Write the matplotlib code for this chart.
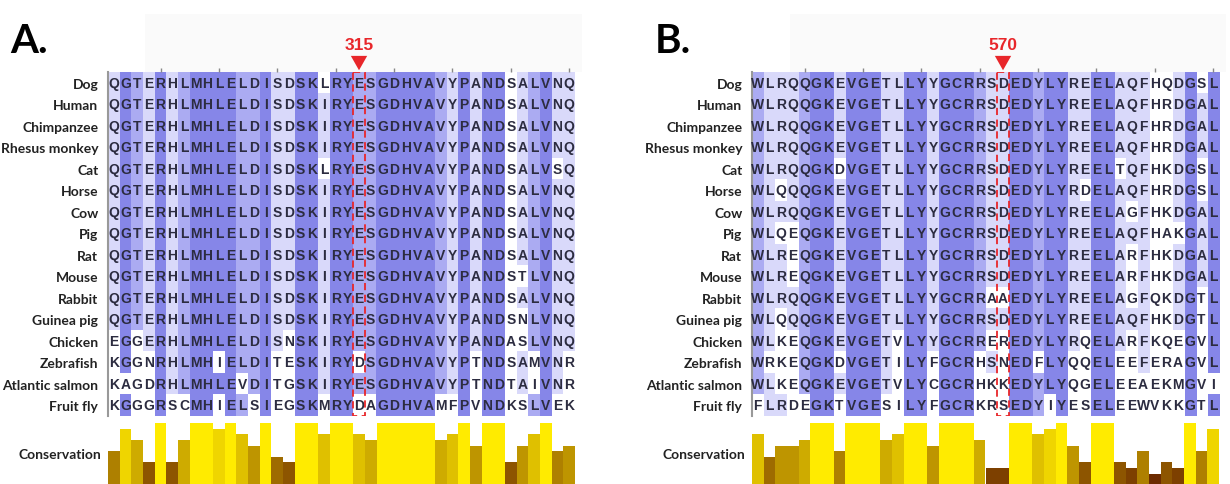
import matplotlib
matplotlib.use("Agg")
import matplotlib.pyplot as plt
from matplotlib.patches import Rectangle, Polygon
from matplotlib.colors import ListedColormap
from collections import Counter
import numpy as np

# ---------------- data ----------------
species = ["Dog", "Human", "Chimpanzee", "Rhesus monkey", "Cat", "Horse", "Cow",
           "Pig", "Rat", "Mouse", "Rabbit", "Guinea pig", "Chicken", "Zebrafish",
           "Atlantic salmon", "Fruit fly"]

seqs_a = [
    "QGTERHLMHLELDISDSKLRYESGDHVAVYPANDSALVNQ",
    "QGTERHLMHLELDISDSKIRYESGDHVAVYPANDSALVNQ",
    "QGTERHLMHLELDISDSKIRYESGDHVAVYPANDSALVNQ",
    "QGTERHLMHLELDISDSKIRYESGDHVAVYPANDSALVNQ",
    "QGTERHLMHLELDISDSKLRYESGDHVAVYPANDSALVSQ",
    "QGTERHLMHLELDISDSKIRYESGDHVAVYPANDSALVNQ",
    "QGTERHLMHLELDISDSKIRYESGDHVAVYPANDSALVNQ",
    "QGTERHLMHLELDISDSKIRYESGDHVAVYPANDSALVNQ",
    "QGTERHLMHLELDISDSKIRYESGDHVAVYPANDSALVNQ",
    "QGTERHLMHLELDISDSKIRYESGDHVAVYPANDSTLVNQ",
    "QGTERHLMHLELDISDSKIRYESGDHVAVYPANDSALVNQ",
    "QGTERHLMHLELDISDSKIRYESGDHVAVYPANDSNLVNQ",
    "EGGERHLMHLELDISNSKIRYESGDHVAVYPANDASLVNQ",
    "KGGNRHLMHIELDITESKIRYDSGDHVAVYPTNDSAMVNR",
    "KAGDRHLMHLEVDITGSKIRYESGDHVAVYPTNDTAIVNR",
    "KGGGRSCMHIELSIEGSKMRYDAGDHVAMFPVNDKSLVEK",
]

seqs_b = [
    "WLRQQGKEVGETLLYYGCRRSDEDYLYREELAQFHQDGSL",
    "WLRQQGKEVGETLLYYGCRRSDEDYLYREELAQFHRDGAL",
    "WLRQQGKEVGETLLYYGCRRSDEDYLYREELAQFHRDGAL",
    "WLRQQGKEVGETLLYYGCRRSDEDYLYREELAQFHRDGAL",
    "WLRQQGKDVGETLLYYGCRRSDEDYLYREELTQFHKDGSL",
    "WLQQQGKEVGETLLYYGCRRSDEDYLYRDELAQFHRDGSL",
    "WLRQQGKEVGETLLYYGCRRSDEDYLYREELAGFHKDGAL",
    "WLQEQGKEVGETLLYYGCRRSDEDYLYREELAQFHAKGAL",
    "WLREQGKEVGETLLYYGCRRSDEDYLYREELARFHKDGAL",
    "WLREQGKEVGETLLYYGCRRSDEDYLYREELARFHKDGAL",
    "WLRQQGKEVGETLLYYGCRRAAEDYLYREELAGFQKDGTL",
    "WLQQQGKEVGETLLYYGCRRSDEDYLYREELAQFHKDGTL",
    "WLKEQGKEVGETVLYYGCRREREDYLYRQELARFKQEGVL",
    "WRKEQGKDVGETILYFGCRHSNEDFLYQQELEEFERAGVL",
    "WLKEQGKEVGETVLYCGCRHKKEDYLYQGELEEAEKMGVI",
    "FLRDEGKTVGESILYFGCRKRSEDYIYESELEEWVKKGTL",
]

# column shading level (0 white .. 3 dark)
levels_a = [1, 3, 2, 1, 3, 1, 2, 3, 3, 3, 3, 2, 2, 3, 1, 1, 3, 3, 1, 3,
            3, 2, 2, 3, 3, 3, 3, 3, 2, 1, 3, 1, 3, 3, 0, 1, 2, 3, 1, 1]
levels_b = [2, 1, 1, 1, 2, 3, 3, 1, 3, 3, 3, 1, 1, 3, 3, 1, 3, 3, 3, 2,
            1, 1, 3, 3, 2, 3, 3, 1, 1, 3, 3, 1, 1, 1, 0, 0, 1, 3, 1, 3]

# conservation scores (0..11)
cons_a = [6, 10, 8, 4, 11, 4, 8, 11, 11, 10, 11, 9, 7, 11, 5, 4, 11, 11, 9, 11,
          11, 9, 8, 11, 11, 11, 11, 11, 8, 9, 11, 7, 11, 11, 4, 7, 9, 11, 6, 7]
cons_b = [9, 5, 7, 7, 8, 11, 11, 6, 11, 11, 11, 8, 9, 11, 11, 7, 11, 11, 11, 8,
          3, 3, 11, 11, 9, 10, 11, 7, 4, 11, 11, 4, 3, 6, 2, 4, 3, 11, 6, 10]

marker_col = [22, 22]
marker_label = ["315", "570"]
panel_label = ["A.", "B."]

# ---------------- styling ----------------
W, H = 1230, 485
fig = plt.figure(figsize=(W / 100, H / 100), dpi=100)
fig.patch.set_facecolor("white")

shade = ListedColormap(["#ffffff", "#d9d9fa", "#ababf2", "#8686e8"])
seq_color = "#2c2c40"
red = "#e8262a"

panels = [
    dict(seqs=seqs_a, lev=levels_a, cons=cons_a, gx=108, lblx=101, hdr=(145, 582)),
    dict(seqs=seqs_b, lev=levels_b, cons=cons_b, gx=752, lblx=745, hdr=(790, 1226)),
]
grid_w = 467
grid_top, grid_bot = 73, 417


def cons_color(v):
    p = v / 11.0
    return (0.3 + 0.7 * p, 0.92 * p, 0.0)


for i, P in enumerate(panels):
    seqs = P["seqs"]
    nrow, ncol = len(seqs), len(seqs[0])

    # faint header box
    fig.add_artist(Rectangle((P["hdr"][0] / W, 1 - grid_top / H),
                             (P["hdr"][1] - P["hdr"][0]) / W, (grid_top - 15) / H,
                             transform=fig.transFigure, facecolor="#fafafa",
                             edgecolor="none", zorder=0))

    ax = fig.add_axes([P["gx"] / W, 1 - grid_bot / H, grid_w / W,
                       (grid_bot - grid_top) / H])
    ax.set_xlim(0, ncol)
    ax.set_ylim(nrow, 0)

    cols = list(zip(*seqs))
    consensus = [Counter(c).most_common(1)[0][0] for c in cols]
    mat = np.array([[P["lev"][j] if seqs[r][j] == consensus[j] else 0
                     for j in range(ncol)] for r in range(nrow)])
    ax.imshow(mat, cmap=shade, vmin=-0.5, vmax=3.5, extent=(0, ncol, nrow, 0),
              aspect="auto", interpolation="nearest")

    for r in range(nrow):
        for j in range(ncol):
            ax.text(j + 0.5, r + 0.5, seqs[r][j], ha="center", va="center",
                    fontsize=10, fontweight="bold", color=seq_color,
                    family="Liberation Sans")

    ax.set_yticks(np.arange(nrow) + 0.5)
    ax.set_yticklabels(species, fontsize=10, fontweight="bold",
                       family="Lato", color="#222222")
    ax.tick_params(axis="y", length=0, pad=7)
    ax.xaxis.tick_top()
    ax.set_xticks(np.arange(4, ncol, 5) + 0.5)
    ax.set_xticklabels([])
    ax.tick_params(axis="x", length=3, width=1, color="#888888", pad=0)
    for s in ["top", "right", "bottom"]:
        ax.spines[s].set_visible(False)
    ax.spines["left"].set_color("#999999")
    ax.spines["left"].set_linewidth(1.5)

    # red marker
    mc = marker_col[i] - 1
    ax.add_patch(Rectangle((mc, 0), 1, nrow, fill=False, edgecolor=red,
                           linestyle=(0, (4, 2.5)), linewidth=1.3, zorder=5))
    ax.add_patch(Polygon([[mc + 0.5 - 0.7, -0.75], [mc + 0.5 + 0.7, -0.75],
                          [mc + 0.5, -0.08]], closed=True, facecolor=red,
                         edgecolor="none", clip_on=False, zorder=6))
    ax.text(mc + 0.5, -1.27, marker_label[i], ha="center", va="center",
            fontsize=12.5, fontweight="bold", color=red, family="Liberation Sans",
            clip_on=False)

    # conservation bars
    cax = fig.add_axes([P["gx"] / W, (H - 486) / H, grid_w / W, 62 / H])
    cax.set_xlim(0, ncol)
    cax.set_ylim(0, 11)
    cax.bar(np.arange(ncol) + 0.5, P["cons"], width=1.0,
            color=[cons_color(v) for v in P["cons"]], edgecolor="none")
    cax.axis("off")
    fig.text(P["lblx"] / W, 1 - 455 / H, "Conservation", ha="right", va="center",
             fontsize=10, fontweight="bold", family="Lato", color="#222222")

    # panel label
    fig.text((10 if i == 0 else 655) / W, 1 - 53 / H, panel_label[i],
             ha="left", va="baseline", fontsize=29, fontweight="bold",
             family="Lato", color="black")

fig.savefig("out.png", dpi=100, facecolor="white")
